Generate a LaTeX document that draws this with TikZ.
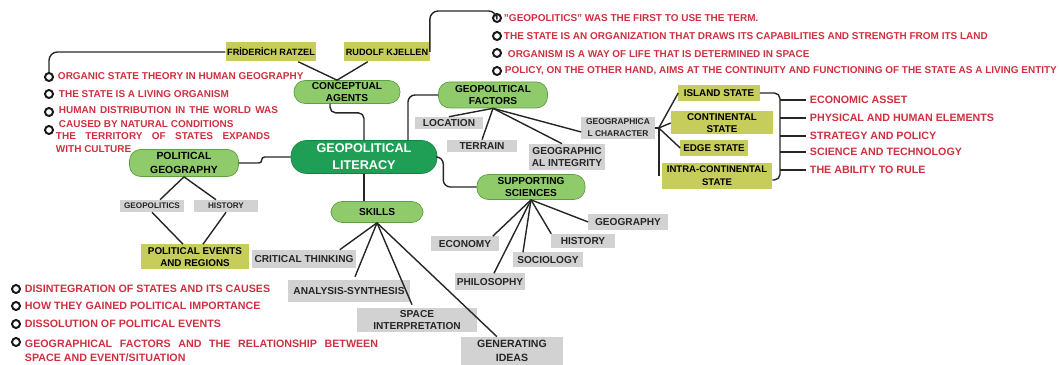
\documentclass[tikz,border=0pt]{standalone}
\usepackage{fontspec}
\setmainfont{Liberation Sans}
\usetikzlibrary{positioning}
\usetikzlibrary{calc}
\definecolor{leaf}{HTML}{8FCB6B}
\definecolor{leafline}{HTML}{5E9E45}
\definecolor{hub}{HTML}{1F9F55}
\definecolor{olive}{HTML}{C6CD5B}
\definecolor{ash}{HTML}{D2D2D2}
\definecolor{crimson}{HTML}{CF3040}
\tikzset{link/.style={draw=black!85, line width=1pt}}
\tikzset{hubnode/.style={fill=hub, draw=hub!80!black, rounded corners=11pt, text=white, font=\bfseries\fontsize{9}{12}\selectfont, align=center, minimum width=3.65cm, minimum height=0.825cm, inner sep=1pt}}
\tikzset{topic/.style={fill=leaf, draw=leafline, line width=0.5pt, rounded corners=8pt, font=\bfseries\fontsize{7.2}{9.2}\selectfont, align=center, inner sep=1pt}}
\tikzset{agent/.style={fill=olive, font=\bfseries\fontsize{7}{9}\selectfont, align=center, inner sep=1pt}}
\tikzset{greybox/.style={fill=ash, text=black!85, font=\bfseries\fontsize{7.2}{9.2}\selectfont, align=center, inner sep=1pt}}
\tikzset{note/.style={text=crimson, font=\bfseries\fontsize{7.1}{9.4}\selectfont, anchor=west, align=left, inner sep=0.5pt}}
\tikzset{bignote/.style={note, font=\bfseries\fontsize{7.6}{10}\selectfont}}
\tikzset{bullet/.style={draw=black!90, circle, line width=1.4pt, minimum size=2mm, inner sep=0pt}}

\begin{document}
\begin{tikzpicture}[x=0.025cm, y=-0.025cm]
    \useasboundingbox (0,0) rectangle (1059,365);

    % centre
    \node[hubnode] (lit) at (364,157) {GEOPOLITICAL\\LITERACY};

    % conceptual agents
    \node[topic, minimum width=2.65cm, minimum height=0.575cm] (ca) at (347,92) {CONCEPTUAL\\AGENTS};
    \node[agent, minimum width=2.1cm, minimum height=0.475cm, font=\bfseries\fontsize{6.5}{8.5}\selectfont] (ratzel) at (271,52) {FRİDERİCH RATZEL};
    \node[agent, minimum width=2.125cm, minimum height=0.475cm, font=\bfseries\fontsize{6.5}{8.5}\selectfont] (kjellen) at (387,52) {RUDOLF KJELLEN};
    \coordinate (catop) at ($(ca.north)+(-10,0)$);

    \node[bullet] (rz1) at (49,77) {};
    \node[bullet] (rz2) at (49,94) {};
    \node[bullet] (rz3) at (49,112) {};
    \node[bullet] (rz4) at (49,130) {};
    \node[note] (rzt1) at (57,76) {ORGANIC STATE THEORY IN HUMAN GEOGRAPHY};
    \node[note] (rzt2) at (58,94) {THE STATE IS A LIVING ORGANISM};
    \node[note] (rzt3) at (58,117) {\makebox[5.475cm][s]{HUMAN DISTRIBUTION IN THE WORLD WAS}\\CAUSED BY NATURAL CONDITIONS};
    \node[note] (rzt4) at (55,142.5) {\makebox[5.35cm][s]{THE TERRITORY OF STATES EXPANDS}\\WITH CULTURE};

    \node[bullet] (kj1) at (497,18) {};
    \node[bullet] (kj2) at (497,36) {};
    \node[bullet] (kj3) at (497,53) {};
    \node[bullet] (kj4) at (497,71) {};
    \node[note] (kjt1) at (503,18) {"GEOPOLITICS" WAS THE FIRST TO USE THE TERM.};
    \node[note] (kjt2) at (503,36) {THE STATE IS AN ORGANIZATION THAT DRAWS ITS CAPABILITIES AND STRENGTH FROM ITS LAND};
    \node[note] (kjt3) at (507,54) {ORGANISM IS A WAY OF LIFE THAT IS DETERMINED IN SPACE};
    \node[note] (kjt4) at (504,71) {POLICY, ON THE OTHER HAND, AIMS AT THE CONTINUITY AND FUNCTIONING OF THE STATE AS A LIVING ENTITY};

    \draw[link] ($(ratzel.south)!0.6!(ratzel.south east)$) -- (catop);
    \draw[link] ($(kjellen.south)!0.45!(kjellen.south west)$) -- (catop);
    \draw[link, rounded corners=6pt] (ratzel.west) -| (rz1.north);
    \draw[link, rounded corners=6pt] (kjellen.east) -- ++(0,-41) -| (kj1.north);
    \draw[link, rounded corners=4pt] ($(ca.south)+(-17,0)$) -- ++(0,9) -| (lit.north);

    % geopolitical factors
    \node[topic, minimum width=2.725cm, minimum height=0.65cm] (gf) at (493,95) {GEOPOLITICAL\\FACTORS};
    \node[greybox, minimum width=1.7cm, minimum height=0.3cm] (loc) at (449,123) {LOCATION};
    \node[greybox, minimum width=1.75cm, minimum height=0.3cm] (ter) at (482,146) {TERRAIN};
    \node[greybox, minimum width=1.9cm, minimum height=0.65cm] (gint) at (567,157) {GEOGRAPHIC\\AL INTEGRITY};
    \node[greybox, minimum width=1.825cm, minimum height=0.55cm, font=\bfseries\fontsize{6}{8.5}\selectfont] (gchar) at (618,128) {GEOGRAPHICA\\L CHARACTER};

    \draw[link, rounded corners=5pt] ($(lit.north)+(44,0)$) |- (gf.west);
    \draw[link] (gf.south) -- (loc.north);
    \draw[link] (gf.south) -- (ter.north);
    \draw[link] (gf.south) -- ($(gint.north)+(-5,0)$);
    \draw[link] (gf.south) -- ($(gchar.west)+(0,4)$);

    \node[agent, minimum width=2.025cm, minimum height=0.4cm] (island) at (719,93) {ISLAND STATE};
    \node[agent, minimum width=2.55cm, minimum height=0.575cm] (cont) at (722,123) {CONTINENTAL\\STATE};
    \node[agent, minimum width=1.675cm, minimum height=0.4cm] (edge) at (714,148) {EDGE STATE};
    \node[agent, minimum width=2.75cm, minimum height=0.65cm, font=\bfseries\fontsize{6.8}{9}\selectfont] (intra) at (717,176) {INTRA-CONTINENTAL\\STATE};
    \coordinate (gfan) at ($(gchar.east)+(4,0)$);

    \draw[link] (gchar.east) -- (gfan);
    \draw[link] (gfan) -- (island.west);
    \draw[link] (gfan) -- (cont.west);
    \draw[link] (gfan) -- (edge.west);
    \draw[link] (gfan) -- (gfan |- intra.west);

    \node[bignote] (ec) at (809,100) {ECONOMIC ASSET};
    \node[bignote] (ph) at (809,118) {PHYSICAL AND HUMAN ELEMENTS};
    \node[bignote] (st) at (809,136) {STRATEGY AND POLICY};
    \node[bignote] (sc) at (809,152) {SCIENCE AND TECHNOLOGY};
    \node[bignote] (ru) at (809,170) {THE ABILITY TO RULE};
    \coordinate (brace) at (780,93);

    \draw[link, rounded corners=4pt] (island.east) -| ($(brace |- intra.east)+(0,4)$) -- ($(intra.east)+(0,4)$);
    \draw[link] (brace |- ec.west) -- ($(ec.west)+(-3,0)$);
    \draw[link] (brace |- ph.west) -- ($(ph.west)+(-3,0)$);
    \draw[link] (brace |- st.west) -- ($(st.west)+(-3,0)$);
    \draw[link] (brace |- sc.west) -- ($(sc.west)+(-3,0)$);
    \draw[link] (brace |- ru.west) -- ($(ru.west)+(-3,0)$);

    % supporting sciences
    \node[topic, minimum width=2.7cm, minimum height=0.625cm] (ss) at (531,187) {SUPPORTING\\SCIENCES};
    \node[greybox, minimum width=1.975cm, minimum height=0.4cm] (geog) at (628,222) {GEOGRAPHY};
    \node[greybox, minimum width=1.575cm, minimum height=0.35cm] (hist) at (583,241) {HISTORY};
    \node[greybox, minimum width=1.75cm, minimum height=0.375cm] (soc) at (548,260) {SOCIOLOGY};
    \node[greybox, minimum width=1.675cm, minimum height=0.375cm] (eco) at (465,244) {ECONOMY};
    \node[greybox, minimum width=1.725cm, minimum height=0.425cm] (phil) at (490,282) {PHILOSOPHY};

    \draw[link, rounded corners=5pt] (lit.east) -- ++(6,0) |- (ss.west);
    \draw[link] (ss.south) -- (geog.west);
    \draw[link] (ss.south) -- (hist.north west);
    \draw[link] (ss.south) -- ($(soc.north)+(-25,0)$);
    \draw[link] (ss.south) -- ($(eco.north east)+(-6,0)$);
    \draw[link] (ss.south) -- ($(phil.north)+(4,0)$);

    % skills
    \node[topic, minimum width=2.3cm, minimum height=0.525cm] (sk) at (377,212) {SKILLS};
    \node[greybox, minimum width=2.575cm, minimum height=0.45cm] (crit) at (304,259) {CRITICAL THINKING};
    \node[greybox, minimum width=3.025cm, minimum height=0.55cm] (ana) at (349,291) {ANALYSIS-SYNTHESIS};
    \node[greybox, minimum width=2.975cm, minimum height=0.6cm] (spa) at (417,320) {SPACE\\INTERPRETATION};
    \node[greybox, minimum width=2.55cm, minimum height=0.7cm, font=\bfseries\fontsize{7.5}{10}\selectfont] (gen) at (512,351) {GENERATING\\IDEAS};

    \draw[link] (lit.south) -- (lit.south |- sk.north);
    \draw[link] (sk.south) -- ($(crit.north east)+(-16,0)$);
    \draw[link] (sk.south) -- ($(ana.north)+(6,-3)$);
    \draw[link] (sk.south) -- ($(spa.north)+(-5,-3)$);
    \draw[link] (sk.south) -- ($(gen.north)+(-15,0)$);

    % political geography
    \node[topic, minimum width=2.725cm, minimum height=0.675cm, font=\bfseries\fontsize{7.4}{9.4}\selectfont] (pg) at (184,163) {POLITICAL\\GEOGRAPHY};
    \node[greybox, minimum width=1.575cm, minimum height=0.3cm, font=\bfseries\fontsize{5.8}{7}\selectfont] (gpol) at (152,206) {GEOPOLITICS};
    \node[greybox, minimum width=1.575cm, minimum height=0.3cm, font=\bfseries\fontsize{5.8}{7}\selectfont] (phist) at (226,206) {HISTORY};
    \node[agent, minimum width=2.7cm, minimum height=0.625cm] (per) at (195,257) {POLITICAL EVENTS\\AND REGIONS};

    \draw[link, rounded corners=2pt] (lit.west) -- ++(-29,0) |- (pg.east);
    \draw[link] (pg.south) -- ($(gpol.north)+(8,0)$);
    \draw[link] (pg.south) -- ($(phist.north)+(-10,0)$);
    \draw[link] (gpol.south) -- ($(per.north)+(-12,0)$);
    \draw[link] (phist.south) -- ($(per.north)+(8,0)$);

    \node[bullet] (pe1) at (16,289) {};
    \node[bullet] (pe2) at (16,306) {};
    \node[bullet] (pe3) at (16,324) {};
    \node[bullet] (pe4) at (16,342) {};
    \node[bignote] (pet1) at (24,289) {DISINTEGRATION OF STATES AND ITS CAUSES};
    \node[bignote] (pet2) at (24,306) {HOW THEY GAINED POLITICAL IMPORTANCE};
    \node[bignote] (pet3) at (24,324) {DISSOLUTION OF POLITICAL EVENTS};
    \node[bignote] (pet4) at (24,351) {\makebox[8.825cm][s]{GEOGRAPHICAL FACTORS AND THE RELATIONSHIP BETWEEN}\\SPACE AND EVENT/SITUATION};
\end{tikzpicture}
\end{document}
